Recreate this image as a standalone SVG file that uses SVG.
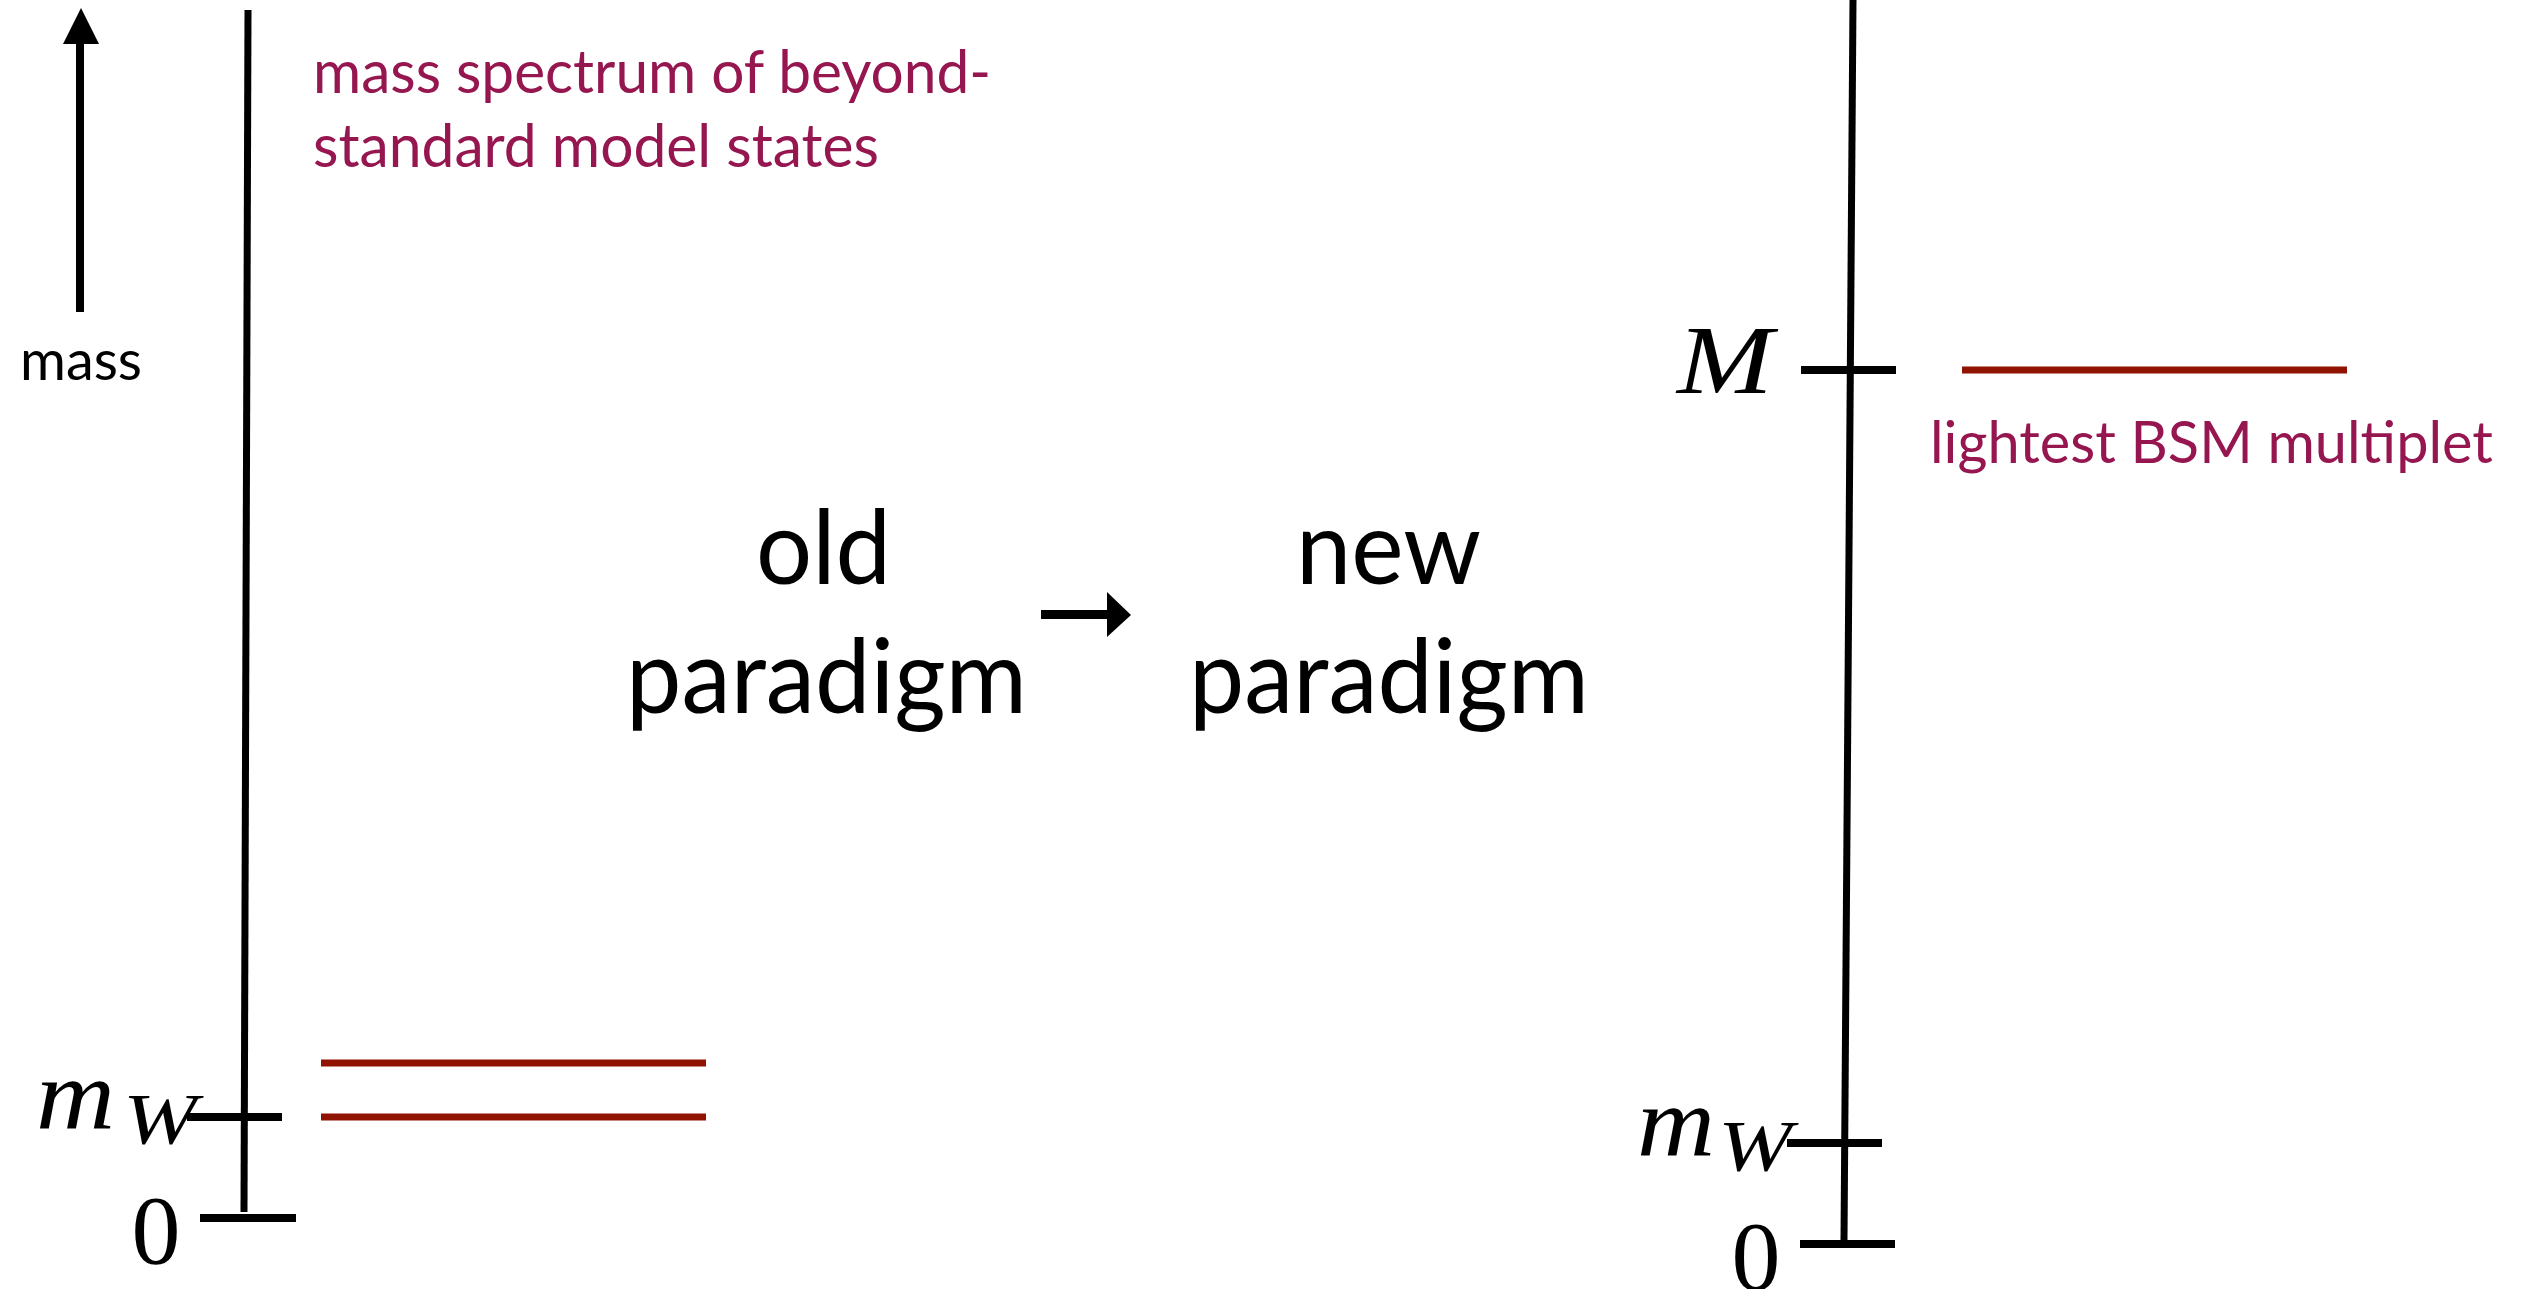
<svg xmlns="http://www.w3.org/2000/svg" width="2523" height="1289" viewBox="0 0 2523 1289">
<style>
.ax{stroke:#000;stroke-width:7;fill:none}
.tk{stroke:#000;stroke-width:8;fill:none}
.lvl{stroke:#901200;stroke-width:7;fill:none}
.sans{font-family:Lato,"Open Sans","Liberation Sans",sans-serif}
.purple{fill:#961650}
.blk{fill:#000}
.math{font-family:"Liberation Serif","DejaVu Serif",serif;font-style:italic;fill:#000}
.num{font-family:"Liberation Serif","DejaVu Serif",serif;fill:#000}
</style>
<rect width="2523" height="1289" fill="#fff"/>
<g id="mass-arrow">
<line x1="80" y1="312" x2="80" y2="40" stroke="#000" stroke-width="8"/>
<polygon points="63,44 99,44 81,8" fill="#000"/>
<text class="sans blk" x="20" y="380" font-size="56" textLength="122" lengthAdjust="spacingAndGlyphs">mass</text>
</g>
<g id="old-axis">
<line class="ax" x1="248" y1="10" x2="244" y2="1212"/>
<line class="tk" x1="187" y1="1117" x2="282" y2="1117"/>
<line class="tk" x1="200" y1="1218" x2="296" y2="1218"/>
<text class="math" x="36" y="1128" font-size="100" textLength="79" lengthAdjust="spacingAndGlyphs">m</text>
<text class="math" x="123" y="1143" font-size="72" textLength="74" lengthAdjust="spacingAndGlyphs">W</text>
<text class="num" x="156" y="1263" font-size="98" text-anchor="middle">0</text>
</g>
<g id="old-levels">
<line class="lvl" x1="321" y1="1063" x2="706" y2="1063"/>
<line class="lvl" x1="321" y1="1117" x2="706" y2="1117"/>
<text class="sans purple" x="313" y="93" font-size="60" textLength="678" lengthAdjust="spacingAndGlyphs">mass spectrum of beyond-</text>
<text class="sans purple" x="313" y="167" font-size="60" textLength="566" lengthAdjust="spacingAndGlyphs">standard model states</text>
</g>
<g id="old-paradigm">
<text class="sans blk" x="756" y="584" font-size="103" textLength="135" lengthAdjust="spacingAndGlyphs">old</text>
<text class="sans blk" x="626" y="713" font-size="103" textLength="401" lengthAdjust="spacingAndGlyphs">paradigm</text>
</g>
<g id="connectors">
<rect x="1041" y="610" width="67" height="9" fill="#000"/>
<polygon points="1107,592 1131,615 1107,637" fill="#000"/>
</g>
<g id="new-paradigm">
<text class="sans blk" x="1296" y="584" font-size="103" textLength="185" lengthAdjust="spacingAndGlyphs">new</text>
<text class="sans blk" x="1189" y="713" font-size="103" textLength="400" lengthAdjust="spacingAndGlyphs">paradigm</text>
</g>
<g id="new-axis">
<line class="ax" x1="1853" y1="0" x2="1844" y2="1240"/>
<line class="tk" x1="1801" y1="370" x2="1896" y2="370"/>
<line class="tk" x1="1787" y1="1143" x2="1882" y2="1143"/>
<line class="tk" x1="1800" y1="1244" x2="1895" y2="1244"/>
<text class="math" x="1677" y="393" font-size="98" textLength="96" lengthAdjust="spacingAndGlyphs">M</text>
<text class="math" x="1637" y="1155" font-size="100" textLength="78" lengthAdjust="spacingAndGlyphs">m</text>
<text class="math" x="1718" y="1170" font-size="72" textLength="74" lengthAdjust="spacingAndGlyphs">W</text>
<text class="num" x="1756" y="1289" font-size="98" text-anchor="middle">0</text>
</g>
<g id="new-level">
<line class="lvl" x1="1962" y1="370" x2="2347" y2="370"/>
<text class="sans purple" x="1930" y="463" font-size="58" textLength="563" lengthAdjust="spacingAndGlyphs">lightest BSM multiplet</text>
</g>
</svg>
